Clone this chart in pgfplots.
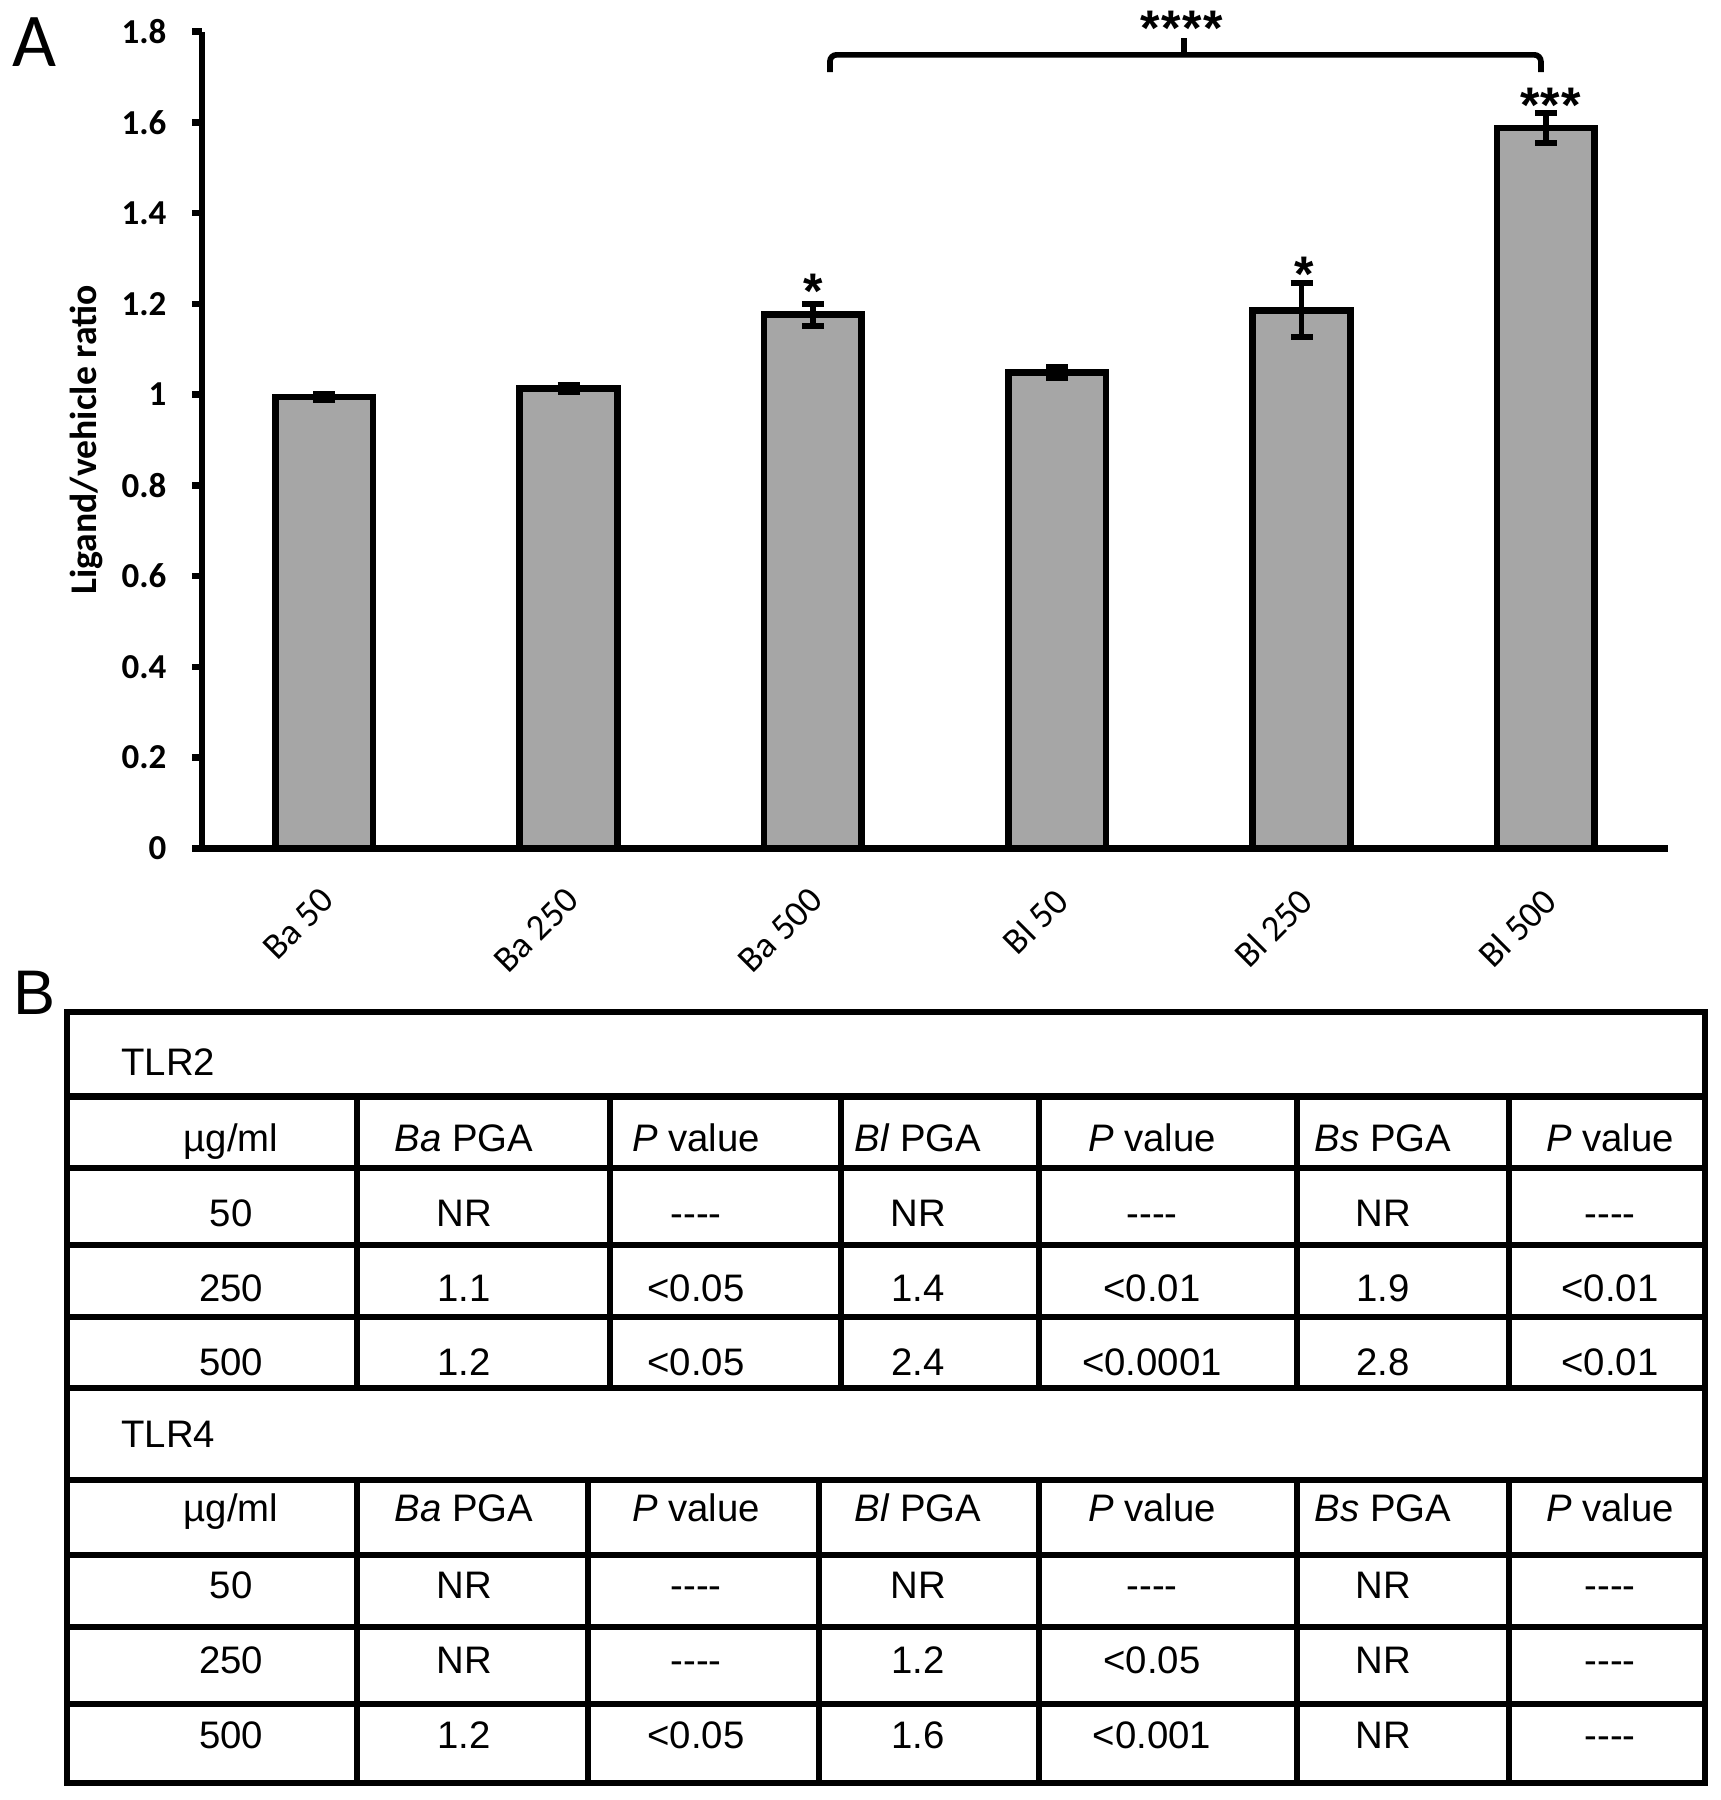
\documentclass[border=0pt]{standalone}
\usepackage{fontspec}
\setmainfont{Carlito}
\newfontfamily\tabfont{Liberation Sans}
\usepackage{pgfplots}
\usepackage{pgfplotstable}
\pgfplotsset{compat=1.18}
\definecolor{barg}{RGB}{166,166,166}

\pgfplotstableread{
x y e
0 0.995 0.006
1 1.014 0.008
2 1.176 0.024
3 1.049 0.012
4 1.186 0.060
5 1.588 0.033
}\bardata

\begin{document}
\begin{tikzpicture}
\useasboundingbox (0,0) rectangle (516pt,-540pt);
\begin{axis}[
  at={(60.6pt,-254.49pt)}, anchor=south west,
  scale only axis, width=439.8pt, height=244.98pt,
  xmin=-0.5, xmax=5.5, ymin=0, ymax=1.8,
  axis lines*=left,
  axis line style={line width=2pt, black},
  clip=false,
  xtick={0,1,2,3,4,5},
  xticklabels={Ba 50, Ba 250, Ba 500, Bl 50, Bl 250, Bl 500},
  x tick style={draw=none},
  ytick={0,0.2,0.4,0.6,0.8,1,1.2,1.4,1.6,1.8},
  yticklabels={0,0.2,0.4,0.6,0.8,1,1.2,1.4,1.6,1.8},
  tick align=outside,
  y tick style={line width=2pt, black},
  major tick length=3pt,
  /pgf/number format/assume math mode=true,
  yticklabel style={font=\bfseries\fontsize{10.5}{12}\selectfont, anchor=east, inner sep=0pt, xshift=-7.5pt},
  xticklabel style={font=\fontsize{11}{13}\selectfont, xshift=-1.5pt, yshift=-8pt, rotate=45, anchor=north east, inner sep=0pt},
  ylabel={Ligand/vehicle ratio},
  ylabel style={font=\bfseries\fontsize{11.3}{13}\selectfont, at={(axis description cs:-0.0791,0.5)}, anchor=center},
]
\addplot[ybar, bar width=0.4, fill=barg, draw=black, line width=2pt,
  error bars/.cd, y dir=both, y explicit,
  error bar style={line width=1.6pt, black},
  error mark options={rotate=90, line width=1.8pt, mark size=3.3pt, black}]
  table[x=x, y=y, y error=e]{\bardata};
\draw[line width=1.7pt, rounded corners=2pt] (axis cs:2.07,1.711) -- (axis cs:2.07,1.749) -- (axis cs:4.98,1.749) -- (axis cs:4.98,1.711);
\draw[line width=1.7pt] (axis cs:3.52,1.749) -- (axis cs:3.52,1.786);
\tikzset{star/.style={anchor=north, inner sep=0pt, font=\tabfont\bfseries\fontsize{15}{15}\selectfont}}
\node[star] at (axis cs:2.0,1.268) {*};
\node[star] at (axis cs:4.01,1.305) {*};
\node[star] at (axis cs:5.02,1.678) {*\kern0.4pt*\kern0.4pt*};
\node[star] at (axis cs:3.51,1.846) {*\kern0.4pt*\kern0.4pt*\kern0.4pt*};
\end{axis}
\node[anchor=north west, inner sep=0pt, font=\fontsize{22.8}{23}\selectfont] at (3.6pt,-5pt) {A};
\node[anchor=north west, inner sep=0pt, font=\tabfont\fontsize{18.9}{19}\selectfont] at (3.9pt,-291pt) {B};
\begin{scope}[x=0.3pt, y=-0.3pt, line width=2pt]
  \draw (67,1012) rectangle (1705,1783);
  \foreach \yy in {1096.7,1168,1245,1317,1388,1480,1555,1627,1704} {\draw (67,\yy) -- (1705,\yy);}
  \foreach \xx in {357,610,841,1039,1297,1509} {\draw (\xx,1096.7) -- (\xx,1388);}
  \foreach \xx in {357,588,819,1039,1297,1509} {\draw (\xx,1480) -- (\xx,1783);}
  \tikzset{tt/.style={anchor=base, inner sep=0pt, font=\tabfont\fontsize{11.5}{13}\selectfont}}
  \node[tt, anchor=base west] at (118,1075) {TLR2};
  \node[tt, anchor=base west] at (118,1447) {TLR4};
  % header rows
  \foreach \yb in {1151,1521} {
    \node[tt] at (231,\yb) {µg/ml};
    \node[tt] at (464,\yb) {\textit{Ba} PGA};
    \node[tt] at (696,\yb) {\textit{P} value};
    \node[tt] at (918,\yb) {\textit{Bl} PGA};
    \node[tt] at (1152,\yb) {\textit{P} value};
    \node[tt] at (1383,\yb) {\textit{Bs} PGA};
    \node[tt] at (1610,\yb) {\textit{P} value};
  }
  % TLR2 data
  \node[tt] at (231,1226.5) {50};
  \node[tt] at (464,1226.5) {NR};
  \node[tt] at (696,1226.5) {-{}-{}-{}-};
  \node[tt] at (918,1226.5) {NR};
  \node[tt] at (1152,1226.5) {-{}-{}-{}-};
  \node[tt] at (1383,1226.5) {NR};
  \node[tt] at (1610,1226.5) {-{}-{}-{}-};
  \node[tt] at (231,1301.5) {250};
  \node[tt] at (464,1301.5) {1.1};
  \node[tt] at (696,1301.5) {<0.05};
  \node[tt] at (918,1301.5) {1.4};
  \node[tt] at (1152,1301.5) {<0.01};
  \node[tt] at (1383,1301.5) {1.9};
  \node[tt] at (1610,1301.5) {<0.01};
  \node[tt] at (231,1375.5) {500};
  \node[tt] at (464,1375.5) {1.2};
  \node[tt] at (696,1375.5) {<0.05};
  \node[tt] at (918,1375.5) {2.4};
  \node[tt] at (1152,1375.5) {<0.0001};
  \node[tt] at (1383,1375.5) {2.8};
  \node[tt] at (1610,1375.5) {<0.01};
  % TLR4 data
  \node[tt] at (231,1598.5) {50};
  \node[tt] at (464,1598.5) {NR};
  \node[tt] at (696,1598.5) {-{}-{}-{}-};
  \node[tt] at (918,1598.5) {NR};
  \node[tt] at (1152,1598.5) {-{}-{}-{}-};
  \node[tt] at (1383,1598.5) {NR};
  \node[tt] at (1610,1598.5) {-{}-{}-{}-};
  \node[tt] at (231,1673.5) {250};
  \node[tt] at (464,1673.5) {NR};
  \node[tt] at (696,1673.5) {-{}-{}-{}-};
  \node[tt] at (918,1673.5) {1.2};
  \node[tt] at (1152,1673.5) {<0.05};
  \node[tt] at (1383,1673.5) {NR};
  \node[tt] at (1610,1673.5) {-{}-{}-{}-};
  \node[tt] at (231,1748.5) {500};
  \node[tt] at (464,1748.5) {1.2};
  \node[tt] at (696,1748.5) {<0.05};
  \node[tt] at (918,1748.5) {1.6};
  \node[tt] at (1152,1748.5) {<0.001};
  \node[tt] at (1383,1748.5) {NR};
  \node[tt] at (1610,1748.5) {-{}-{}-{}-};
\end{scope}
\end{tikzpicture}
\end{document}
